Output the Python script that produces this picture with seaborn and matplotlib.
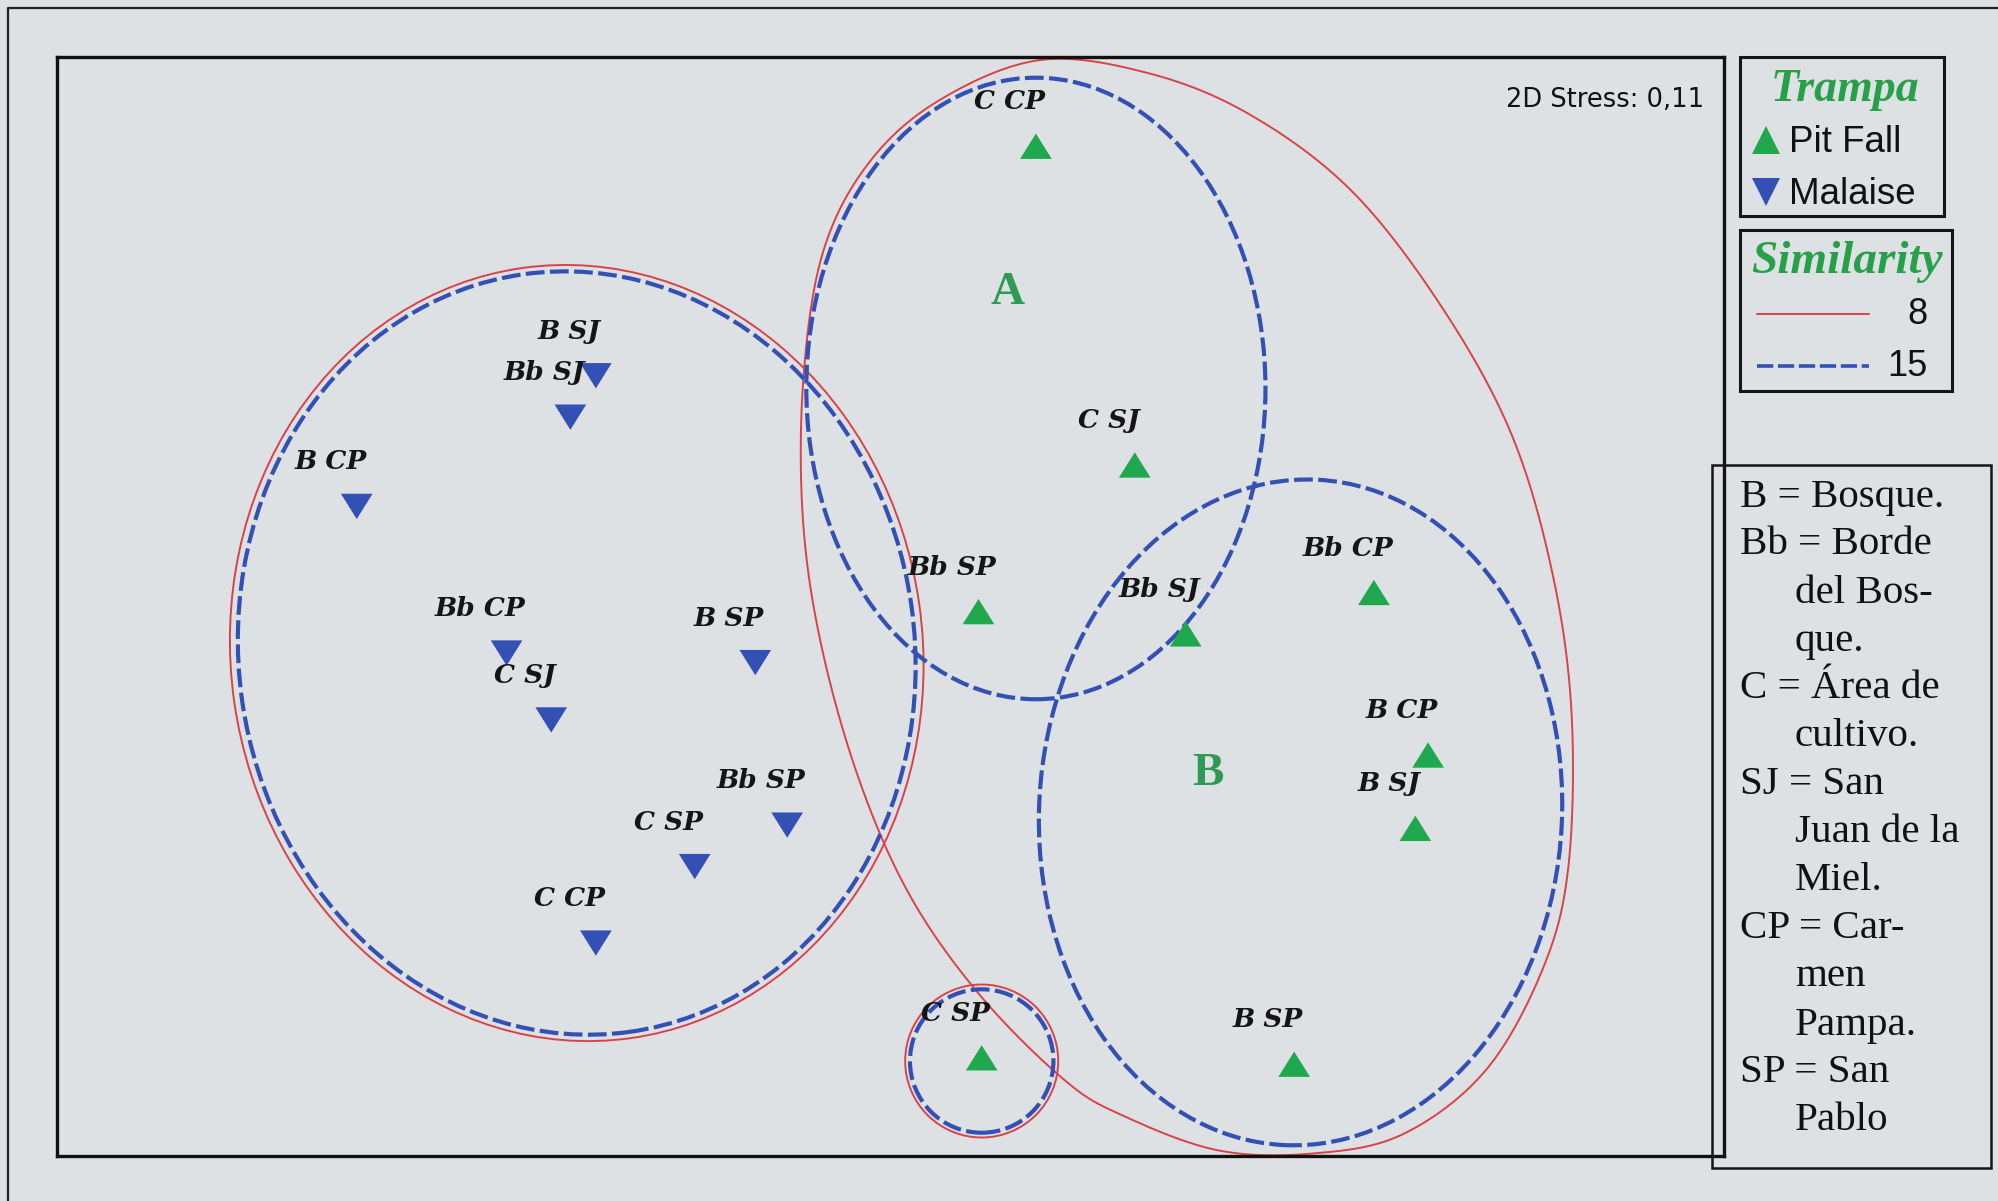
import numpy as np
import pandas as pd
import matplotlib
matplotlib.use("Agg")
import matplotlib.pyplot as plt
from matplotlib.patches import Ellipse, Rectangle
from matplotlib.lines import Line2D
import seaborn as sns

# --- NMDS ordination scores (2D stress 0.11) ---
malaise_sites = ["B SJ", "Bb SJ", "B CP", "Bb CP", "C SJ", "B SP", "Bb SP", "C SP", "C CP"]
malaise_x = [-0.93, -1.01, -1.68, -1.21, -1.07, -0.43, -0.33, -0.62, -0.93]
malaise_y = [0.74, 0.61, 0.33, -0.13, -0.34, -0.16, -0.67, -0.80, -1.04]

pitfall_sites = ["C CP", "C SJ", "Bb SP", "Bb SJ", "Bb CP", "B CP", "B SJ", "B SP", "C SP"]
pitfall_x = [0.45, 0.76, 0.27, 0.92, 1.51, 1.68, 1.64, 1.26, 0.28]
pitfall_y = [1.46, 0.46, 0.00, -0.07, 0.06, -0.45, -0.68, -1.42, -1.40]

trap_names = ["Pit Fall", "Malaise"]
stress_label = "2D Stress: 0,11"

# --- similarity contours (cluster levels 8 % and 15 %) ---
# ellipse-shaped groups: centre x, centre y, width, height, angle
malaise_group_8 = (-0.99, -0.13, 2.17, 2.44, 8)
malaise_group_15 = (-0.99, -0.13, 2.12, 2.40, 8)
group_a_15 = (0.45, 0.70, 1.44, 1.95, 0)
group_b_15 = (1.28, -0.63, 1.64, 2.09, -3)
csp_group_8 = (0.28, -1.41, 0.48, 0.48, 0)
csp_group_15 = (0.28, -1.41, 0.45, 0.45, 0)
# outline of the 8 % group holding groups A and B
envelope_x = [0.46, 0.80, 1.12, 1.44, 1.72, 1.94, 2.07, 2.13, 2.12, 2.04, 1.86, 1.60,
              1.32, 1.02, 0.72, 0.54, 0.28, 0.06, -0.10, -0.22, -0.28, -0.28, -0.22,
              -0.08, 0.14]
envelope_y = [1.73, 1.69, 1.56, 1.32, 0.96, 0.56, 0.12, -0.32, -0.80, -1.12, -1.44, -1.64,
              -1.70, -1.69, -1.58, -1.47, -1.21, -0.90, -0.54, -0.12, 0.28, 0.72, 1.12,
              1.40, 1.60]

group_letters = ["A", "B"]
group_letter_x = [0.36, 0.99]
group_letter_y = [1.00, -0.51]

similarity_levels = ["8", "15"]

key_lines = [
    ("B = Bosque.", False), ("Bb = Borde", False), ("del Bos-", True), ("que.", True),
    ("C = Área de", False), ("cultivo.", True), ("SJ = San", False), ("Juan de la", True),
    ("Miel.", True), ("CP = Car-", False), ("men", True), ("Pampa.", True),
    ("SP = San", False), ("Pablo", True),
]

# --- styling ---
BG = "#dee1e4"
GREEN = "#1fa84e"
BLUE = "#3550b4"
RED = "#d8434a"
TITLE_GREEN = "#27a04a"

sns.set_theme(style="white")
plt.rcParams["font.family"] = ["DejaVu Sans"]

W, H = 1999, 1201
fig = plt.figure(figsize=(W / 100, H / 100), dpi=100, facecolor=BG)


def fx(px):
    return px / W


def fy(py):
    return 1 - py / H


ax = fig.add_axes([fx(57), fy(1156), fx(1724) - fx(57), fy(57) - fy(1156)])
ax.set_facecolor(BG)
ax.set_xlim(-2.62, 2.608)
ax.set_ylim(-1.708, 1.74)
ax.set_xticks([])
ax.set_yticks([])
for sp in ax.spines.values():
    sp.set_color("#111111")
    sp.set_linewidth(2.4)

dash15 = (0, (4.5, 1.3))


def add_ellipse(params, color, lw, ls):
    cx, cy, w, h, ang = params
    ax.add_patch(Ellipse((cx, cy), w, h, angle=ang, fill=False, edgecolor=color,
                         linewidth=lw, linestyle=ls, zorder=2))


def closed_spline(xs, ys, n=40):
    pts = np.column_stack([xs, ys])
    m = len(pts)
    t = np.linspace(0, 1, n, endpoint=False)[:, None]
    segs = []
    for i in range(m):
        p0, p1, p2, p3 = pts[i - 1], pts[i], pts[(i + 1) % m], pts[(i + 2) % m]
        segs.append(0.5 * (2 * p1 + (-p0 + p2) * t + (2 * p0 - 5 * p1 + 4 * p2 - p3) * t ** 2
                           + (-p0 + 3 * p1 - 3 * p2 + p3) * t ** 3))
    curve = np.vstack(segs + [segs[0][:1]])
    return curve[:, 0], curve[:, 1]


# 8 % contours (red, solid)
ex, ey = closed_spline(envelope_x, envelope_y)
ax.plot(ex, ey, color=RED, lw=1.4, zorder=2)
add_ellipse(malaise_group_8, RED, 1.4, "-")
add_ellipse(csp_group_8, RED, 1.4, "-")
# 15 % contours (blue, dashed)
for g in (malaise_group_15, group_a_15, group_b_15, csp_group_15):
    add_ellipse(g, BLUE, 3.0, dash15)

# samples
df = pd.DataFrame({
    "NMDS1": pitfall_x + malaise_x,
    "NMDS2": pitfall_y + malaise_y,
    "Site": pitfall_sites + malaise_sites,
    "Trampa": [trap_names[0]] * len(pitfall_x) + [trap_names[1]] * len(malaise_x),
})
up = [(-1, -0.8), (1, -0.8), (0, 0.8)]
down = [(-1, 0.8), (1, 0.8), (0, -0.8)]
sns.scatterplot(data=df, x="NMDS1", y="NMDS2", hue="Trampa", style="Trampa",
                palette={trap_names[0]: GREEN, trap_names[1]: BLUE},
                markers={trap_names[0]: up, trap_names[1]: down},
                s=520, linewidth=0, legend=False, ax=ax, zorder=4)
ax.set_xlabel("")
ax.set_ylabel("")

for _, r in df.iterrows():
    ax.annotate(r["Site"], (r["NMDS1"], r["NMDS2"]), xytext=(-19, 32),
                textcoords="offset points", ha="center", va="center",
                fontsize=19, family="DejaVu Serif", style="italic", weight="bold",
                color="#151515", zorder=5)

for letter, lx, ly in zip(group_letters, group_letter_x, group_letter_y):
    ax.text(lx, ly, letter, ha="center", va="center", fontsize=34,
            family="Liberation Serif", weight="bold", color="#2f9a55", zorder=5)

ax.text(0.988, 0.973, stress_label, transform=ax.transAxes, ha="right", va="top",
        fontsize=18.5, family="DejaVu Sans", color="#111111")

# outer frame (top and left edges)
fig.add_artist(Line2D([fx(8), fx(8), 1.0], [0.0, fy(8), fy(8)], transform=fig.transFigure,
                      color="#222222", lw=1.6))


def box(x0, y0, x1, y1, lw=2.2):
    fig.add_artist(Rectangle((fx(x0), fy(y1)), fx(x1) - fx(x0), fy(y0) - fy(y1),
                             transform=fig.transFigure, fill=False, edgecolor="#151515",
                             lw=lw, zorder=6))


# legend: trap type
box(1740, 57, 1944, 216)
fig.text(fx(1845), fy(90), "Trampa", ha="center", va="center", fontsize=33,
         family="Liberation Serif", style="italic", weight="bold", color=TITLE_GREEN)
for name, mk, col, py in zip(trap_names, ["^", "v"], [GREEN, BLUE], [140, 192]):
    fig.add_artist(Line2D([fx(1766)], [fy(py)], transform=fig.transFigure, marker=mk,
                          markersize=20, color=col, markeredgewidth=0, linestyle=""))
    fig.text(fx(1789), fy(py + 3), name, ha="left", va="center", fontsize=26.5,
             family="Liberation Sans", color="#111111")

# legend: similarity
box(1740, 230, 1952, 391)
fig.text(fx(1847), fy(262), "Similarity", ha="center", va="center", fontsize=34,
         family="Liberation Serif", style="italic", weight="bold", color=TITLE_GREEN)
for lvl, col, ls, lw, py in zip(similarity_levels, [RED, BLUE], ["-", dash15], [1.4, 2.6],
                                [314, 366]):
    fig.add_artist(Line2D([fx(1757), fx(1869)], [fy(py), fy(py)], transform=fig.transFigure,
                          color=col, lw=lw, linestyle=ls))
    fig.text(fx(1928), fy(py), lvl, ha="right", va="center", fontsize=26,
             family="Liberation Sans", color="#111111")

# abbreviation key
box(1712, 465, 1991, 1168, lw=1.8)
for i, (line, indent) in enumerate(key_lines):
    fig.text(fx(1795 if indent else 1740), fy(497 + 48 * i), line, ha="left", va="center",
             fontsize=29.5, family="Liberation Serif", color="#111111")

fig.savefig("out.png", dpi=100, facecolor=BG)
